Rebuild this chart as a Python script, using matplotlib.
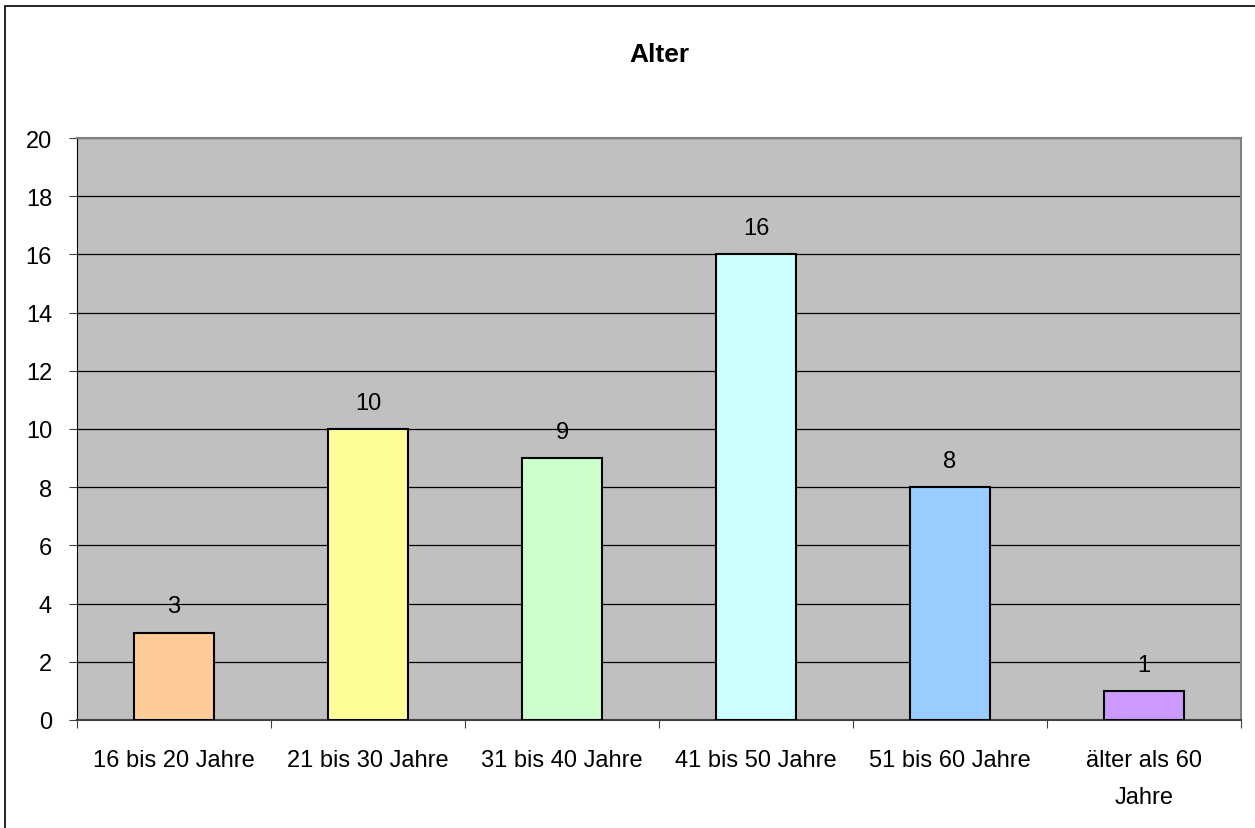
import matplotlib.pyplot as plt
from matplotlib.patches import Rectangle
import numpy as np

plt.rcParams['font.family'] = ['Liberation Sans', 'DejaVu Sans']

# Daten
kategorien = ['16 bis 20 Jahre', '21 bis 30 Jahre', '31 bis 40 Jahre',
              '41 bis 50 Jahre', '51 bis 60 Jahre', 'älter als 60\nJahre']
anzahl = [3, 10, 9, 16, 8, 1]
farben = ['#FFCC99', '#FFFF99', '#CCFFCC', '#CCFFFF', '#99CCFF', '#CC99FF']
y_ticks = [0, 2, 4, 6, 8, 10, 12, 14, 16, 18, 20]

fig = plt.figure(figsize=(12.55, 8.29), dpi=100)
# Rahmen um das Diagramm
fig.patches.append(Rectangle((5 / 1255, -0.01), 1.0, 1 - 7 / 829 + 0.01,
                             transform=fig.transFigure, fill=False,
                             edgecolor='black', linewidth=1.2))

ax = fig.add_axes([77 / 1255, 1 - 721 / 829, (1241 - 77) / 1255, (721 - 139) / 829])
ax.set_facecolor('#C0C0C0')

x = np.arange(len(kategorien))
ax.bar(x, anzahl, width=0.41, color=farben, edgecolor='black', linewidth=1.5, zorder=3)

for xi, wert in zip(x, anzahl):
    ax.annotate(str(wert), (xi, wert), xytext=(0, 11), textcoords='offset points',
                ha='center', va='bottom', fontsize=17)

ax.set_xlim(-0.5, len(kategorien) - 0.5)
ax.set_ylim(0, 20)
ax.set_yticks(y_ticks)
ax.yaxis.grid(True, color='black', linewidth=0.9, zorder=0)
ax.set_axisbelow(True)

# Kategorie-Ticks an den Grenzen
ax.set_xticks(np.arange(len(kategorien) + 1) - 0.5)
ax.set_xticklabels([])
ax.set_xticks(x, minor=True)
ax.set_xticklabels(kategorien, minor=True, fontsize=17, linespacing=1.9)
ax.tick_params(axis='x', which='minor', length=0, pad=21)
ax.tick_params(axis='x', which='major', length=6, color='#404040', direction='out')
ax.tick_params(axis='y', length=6, color='#404040', labelsize=17, pad=12)

ax.spines['left'].set_color('black')
ax.spines['bottom'].set_color('#404040')
ax.spines['bottom'].set_linewidth(1.5)
ax.spines['top'].set_color('#808080')
ax.spines['right'].set_color('#808080')
ax.spines['top'].set_linewidth(1.5)
ax.spines['right'].set_linewidth(1.5)

fig.text((77 + 1241) / 2 / 1255, 1 - 55 / 829, 'Alter', ha='center', va='center',
         fontsize=19, fontweight='bold')

fig.savefig('out.png', dpi=100)
